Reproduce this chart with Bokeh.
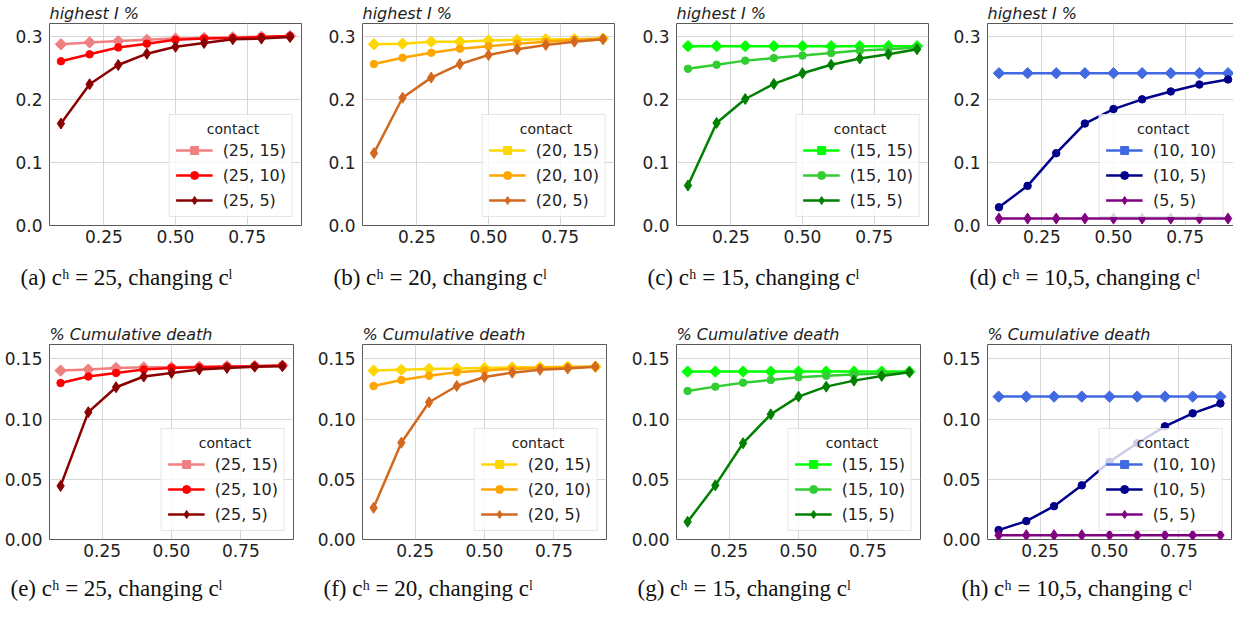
import math
from bokeh.plotting import figure
from bokeh.layouts import gridplot
from bokeh.models import Title, FixedTicker, PrintfTickFormatter, Range1d
from bokeh.embed import file_html
from bokeh.resources import INLINE

# ---------------- data ----------------
cl = [0.1, 0.2, 0.3, 0.4, 0.5, 0.6, 0.7, 0.8, 0.9]

# highest I %
a_25_15 = [0.288, 0.291, 0.293, 0.295, 0.297, 0.298, 0.299, 0.300, 0.301]
a_25_10 = [0.261, 0.272, 0.283, 0.289, 0.295, 0.297, 0.298, 0.2995, 0.301]
a_25_5 = [0.162, 0.2245, 0.255, 0.273, 0.284, 0.290, 0.296, 0.297, 0.2995]

b_20_15 = [0.288, 0.289, 0.292, 0.292, 0.294, 0.295, 0.296, 0.296, 0.297]
b_20_10 = [0.2565, 0.2665, 0.2745, 0.281, 0.285, 0.289, 0.292, 0.295, 0.297]
b_20_5 = [0.115, 0.203, 0.235, 0.2565, 0.271, 0.280, 0.287, 0.292, 0.296]

c_15_15 = [0.285, 0.285, 0.285, 0.285, 0.285, 0.285, 0.285, 0.285, 0.285]
c_15_10 = [0.249, 0.2555, 0.262, 0.266, 0.270, 0.274, 0.278, 0.280, 0.283]
c_15_5 = [0.0635, 0.163, 0.201, 0.225, 0.242, 0.2555, 0.2655, 0.272, 0.280]

d_10_10 = [0.242, 0.242, 0.242, 0.242, 0.242, 0.242, 0.242, 0.242, 0.242]
d_10_5 = [0.029, 0.063, 0.115, 0.162, 0.185, 0.2005, 0.213, 0.224, 0.232]
d_5_5 = [0.011, 0.011, 0.011, 0.011, 0.011, 0.011, 0.011, 0.011, 0.011]

# % cumulative death
e_25_15 = [0.1403, 0.1412, 0.1425, 0.143, 0.143, 0.1436, 0.144, 0.1442, 0.1445]
e_25_10 = [0.130, 0.1354, 0.1384, 0.1412, 0.1425, 0.143, 0.1436, 0.144, 0.1445]
e_25_5 = [0.0445, 0.1058, 0.1265, 0.1354, 0.1384, 0.1412, 0.1425, 0.1436, 0.144]

f_20_15 = [0.1403, 0.141, 0.1417, 0.142, 0.1425, 0.143, 0.143, 0.1436, 0.1436]
f_20_10 = [0.1275, 0.1325, 0.136, 0.139, 0.1403, 0.1417, 0.1425, 0.143, 0.1436]
f_20_5 = [0.0263, 0.0804, 0.114, 0.1275, 0.135, 0.1386, 0.141, 0.142, 0.1436]

g_15_15 = [0.1395, 0.1395, 0.1395, 0.1395, 0.1395, 0.1395, 0.1395, 0.1395, 0.1395]
g_15_10 = [0.1234, 0.127, 0.1303, 0.1325, 0.1348, 0.136, 0.137, 0.138, 0.139]
g_15_5 = [0.0147, 0.045, 0.080, 0.104, 0.1187, 0.127, 0.132, 0.1359, 0.139]

h_10_10 = [0.1187, 0.1187, 0.1187, 0.1187, 0.1187, 0.1187, 0.1187, 0.1187, 0.1187]
h_10_5 = [0.0078, 0.0153, 0.0277, 0.045, 0.0646, 0.080, 0.094, 0.1048, 0.113]
h_5_5 = [0.0036, 0.0036, 0.0036, 0.0036, 0.0036, 0.0036, 0.0036, 0.0036, 0.0036]

x_ticks = [0.25, 0.50, 0.75]
y_ticks_top = [0.0, 0.1, 0.2, 0.3]
y_ticks_bottom = [0.00, 0.05, 0.10, 0.15]

title_top = "highest I %"
title_bottom = "% Cumulative death"
legend_title = "contact"

captions_top = ["(a) c\u02b0 = 25, changing c\u02e1", "(b) c\u02b0 = 20, changing c\u02e1",
                "(c) c\u02b0 = 15, changing c\u02e1", "(d) c\u02b0 = 10,5, changing c\u02e1"]
captions_bottom = ["(e) c\u02b0 = 25, changing c\u02e1", "(f) c\u02b0 = 20, changing c\u02e1",
                   "(g) c\u02b0 = 15, changing c\u02e1", "(h) c\u02b0 = 10,5, changing c\u02e1"]

labels_a = ["(25, 15)", "(25, 10)", "(25, 5)"]
labels_b = ["(20, 15)", "(20, 10)", "(20, 5)"]
labels_c = ["(15, 15)", "(15, 10)", "(15, 5)"]
labels_d = ["(10, 10)", "(10, 5)", "(5, 5)"]

colors_a = ["#f08080", "#ff0000", "#8b0000"]
colors_b = ["#ffd700", "#ffa500", "#d2691e"]
colors_c = ["#00ff00", "#32cd32", "#008000"]
colors_d = ["#4169e1", "#00008b", "#800080"]

# ---------------- styling ----------------
TICK_FONT = "DejaVu Sans"
TEXT_COLOR = "#222222"
MARKERS = [("square", 8, math.pi / 4), ("circle", 7.5, 0.0), ("diamond", 11, 0.0)]


def make_panel(title, series, labels, colors, yticks, yfmt, ymax, caption, cap_offset,
               fw, fh, bl, br, bt, bb, cap_standoff):
    p = figure(frame_width=fw, frame_height=fh,
               x_range=Range1d(0.06, 0.94), y_range=Range1d(0, ymax),
               output_backend="svg", toolbar_location=None,
               min_border_left=bl, min_border_right=br,
               min_border_top=bt, min_border_bottom=bb,
               background_fill_color="white", border_fill_color="white")
    p.title.text = title
    p.title.text_font = TICK_FONT
    p.title.text_font_style = "italic"
    p.title.text_font_size = "16px"
    p.title.text_color = TEXT_COLOR
    p.title.align = "left"
    p.title.standoff = 2

    for vals, lab, col, (mk, sz, ang) in zip(series, labels, colors, MARKERS):
        p.line(cl, vals, line_color=col, line_width=2.5, legend_label=lab)
        p.scatter(cl, vals, marker=mk, size=sz, angle=ang, fill_color=col,
                  line_color=col, legend_label=lab)

    p.xaxis.ticker = FixedTicker(ticks=x_ticks)
    p.xaxis.formatter = PrintfTickFormatter(format="%.2f")
    p.yaxis.ticker = FixedTicker(ticks=yticks)
    p.yaxis.formatter = PrintfTickFormatter(format=yfmt)
    for ax in (p.xaxis, p.yaxis):
        ax.major_tick_in = 0
        ax.major_tick_out = 0
        ax.minor_tick_in = 0
        ax.minor_tick_out = 0
        ax.axis_line_color = None
        ax.major_label_text_font = TICK_FONT
        ax.major_label_text_font_size = "17px"
        ax.major_label_text_color = TEXT_COLOR
    p.xaxis.major_label_standoff = 4
    p.yaxis.major_label_standoff = 7

    p.xgrid.grid_line_color = "#d6d6d6"
    p.ygrid.grid_line_color = "#d6d6d6"
    p.outline_line_color = "#5a5a5a"
    p.outline_line_width = 1

    lg = p.legend[0]
    lg.title = "\u00a0" * 7 + legend_title
    lg.title_text_font = TICK_FONT
    lg.title_text_font_size = "14px"
    lg.title_text_font_style = "normal"
    lg.title_text_color = TEXT_COLOR
    lg.title_standoff = 3
    lg.location = "bottom_right"
    lg.label_text_font = TICK_FONT
    lg.label_text_font_size = "16px"
    lg.label_text_color = TEXT_COLOR
    lg.label_height = 20
    lg.glyph_height = 20
    lg.glyph_width = 37
    lg.label_standoff = 10
    lg.spacing = 5
    lg.padding = 6
    lg.margin = 8
    lg.border_line_color = "#cccccc"
    lg.border_line_width = 1
    lg.background_fill_color = "white"
    lg.background_fill_alpha = 0.8

    cap = Title(text=caption, align="left", offset=cap_offset,
                text_font="Liberation Serif", text_font_size="23px",
                text_font_style="normal", text_color="#111111",
                standoff=cap_standoff)
    p.add_layout(cap, "below")
    return p


top_series = [[a_25_15, a_25_10, a_25_5], [b_20_15, b_20_10, b_20_5],
              [c_15_15, c_15_10, c_15_5], [d_10_10, d_10_5, d_5_5]]
bottom_series = [[e_25_15, e_25_10, e_25_5], [f_20_15, f_20_10, f_20_5],
                 [g_15_15, g_15_10, g_15_5], [h_10_10, h_10_5, h_5_5]]
all_labels = [labels_a, labels_b, labels_c, labels_d]
all_colors = [colors_a, colors_b, colors_c, colors_d]

# layout geometry (pixels)
top_bl = [39, 39, 40, 39]
top_br = [22, 22, 21, 3]
bot_bl = [49, 49, 50, 47]
bot_br = [20, 20, 19, 3]
top_cap_off = [-29, -29, -29, -18]
bot_cap_off = [-39, -39, -39, -26]

row1 = []
row2 = []
for i in range(4):
    row1.append(make_panel(title_top, top_series[i], all_labels[i], all_colors[i],
                           y_ticks_top, "%.1f", 0.321, captions_top[i], top_cap_off[i],
                           252, 202, top_bl[i], top_br[i], 22, 84, 35))
    row2.append(make_panel(title_bottom, bottom_series[i], all_labels[i], all_colors[i],
                           y_ticks_bottom, "%.2f", 0.162, captions_bottom[i], bot_cap_off[i],
                           244, 195, bot_bl[i], bot_br[i], 35, 63, 28))

grid = gridplot([row1, row2], toolbar_location=None)

with open("out.html", "w") as fh:
    fh.write(file_html(grid, INLINE))
